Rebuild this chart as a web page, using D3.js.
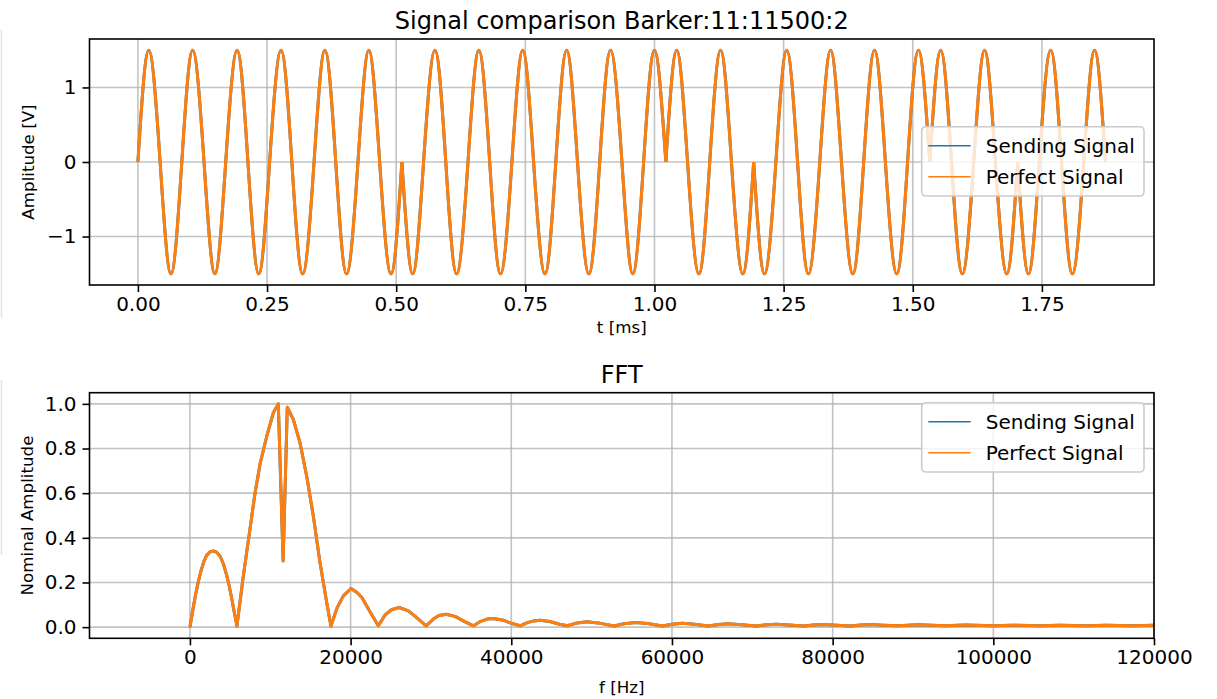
<!DOCTYPE html>
<html><head><meta charset="utf-8">
<script src="https://cdn.jsdelivr.net/npm/d3@7"></script>
<style>html,body{margin:0;padding:0;background:#fff;}svg{display:block;font-family:"DejaVu Sans",sans-serif;}</style>
</head><body><svg id="chart" width="1217" height="699"></svg>
<script>
// ---------- DATA ----------
const seriesNames = ["Sending Signal", "Perfect Signal"];
const seriesColors = ["#1f77b4", "#ff7f0e"];

// Top panel: time [ms] of peaks / zero crossings / troughs, and amplitude [V]
const sigT = [
0.000,0.021,0.043,0.064, 0.085,0.106,0.128,0.149, 0.170,0.192,0.213,0.234,
0.255,0.277,0.298,0.319, 0.341,0.362,0.383,0.404, 0.426,0.447,0.468,0.490,
0.511,0.532,0.553,0.575, 0.596,0.617,0.639,0.660, 0.681,0.702,0.724,0.745,
0.766,0.788,0.809,0.830, 0.851,0.873,0.894,0.915, 0.937,0.958,0.979,1.000,
1.022,1.043,1.064,1.086, 1.107,1.128,1.149,1.171, 1.192,1.213,1.235,1.256,
1.277,1.298,1.320,1.341, 1.362,1.384,1.405,1.426, 1.447,1.469,1.490,1.511,
1.533,1.554,1.575,1.596, 1.618,1.639,1.660,1.682, 1.703,1.724,1.745,1.767,
1.788,1.809,1.831,1.852, 1.873];
const sendingV = [
0,1.5,0,-1.5, 0,1.5,0,-1.5, 0,1.5,0,-1.5,
0,1.5,0,-1.5, 0,1.5,0,-1.5, 0,1.5,0,-1.5,
0,-1.5,0,1.5, 0,-1.5,0,1.5, 0,-1.5,0,1.5,
0,-1.5,0,1.5, 0,-1.5,0,1.5, 0,-1.5,0,1.5,
0,1.5,0,-1.5, 0,1.5,0,-1.5, 0,-1.5,0,1.5,
0,-1.5,0,1.5, 0,-1.5,0,1.5, 0,-1.5,0,1.5,
0,1.5,0,-1.5, 0,1.5,0,-1.5, 0,-1.5,0,1.5,
0,-1.5,0,1.5, 0];
const perfectV = sendingV.slice();

// Bottom panel: frequency [Hz] and nominal amplitude
const fftF = [0,350,700,1050,1400,1750,2090,2500,2913,3300,3750,4150,4580,4900,5200,5500,5850,
6650,7480,8100,8725,9560,10380,11000,11600,12120,
12870,13700,14535,15360,16190,17025,17550,18300,19100,20050,20800,21400,22400,23450,24300,25100,26050,
27200,28300,29400,30300,31000,31900,33000,34200,35300,36200,37000,37800,39000,40100,41100,42000,42800,
43600,44800,46000,47000,48000,49400,50800,52800,54000,55500,57000,58800,60000,61300,62800,64500,65800,
67000,68700,70500,71800,73000,74600,76400,77600,78800,80500,82200,83500,84700,86300,88100,90600,94000,
96500,100000,102300,105800,108200,111700,114000,117500,120000];
const sendingA = [0,0.075,0.145,0.205,0.255,0.295,0.322,0.337,0.341,0.336,0.318,0.285,0.232,0.183,0.128,0.07,0.005,
0.23,0.44,0.60,0.73,0.855,0.96,1.0,0.296,0.985,
0.93,0.826,0.676,0.498,0.289,0.11,0.005,0.085,0.14,0.173,0.155,0.133,0.07,0.006,0.055,0.078,0.088,
0.073,0.04,0.006,0.036,0.052,0.058,0.048,0.025,0.006,0.026,0.036,0.039,0.031,0.016,0.006,0.02,0.028,
0.031,0.025,0.013,0.006,0.017,0.024,0.019,0.005,0.015,0.021,0.016,0.005,0.013,0.017,0.013,0.005,0.012,
0.015,0.011,0.005,0.011,0.013,0.010,0.005,0.010,0.012,0.009,0.005,0.010,0.012,0.009,0.006,0.011,0.006,
0.010,0.006,0.009,0.006,0.009,0.006,0.009,0.006,0.008];
const perfectA = sendingA.slice();

const xTicksTop = [0,0.25,0.5,0.75,1.0,1.25,1.5,1.75];
const yTicksTop = [-1,0,1];
const xTicksBot = [0,20000,40000,60000,80000,100000,120000];
const yTicksBot = [0,0.2,0.4,0.6,0.8,1.0];

const titleTop = "Signal comparison Barker:11:11500:2";
const titleBot = "FFT";
const xLabelTop = "t [ms]", yLabelTop = "Amplitude [V]";
const xLabelBot = "f [Hz]", yLabelBot = "Nominal Amplitude";

// ---------- DRAWING ----------
const svg = d3.select("#chart");
const L = 89.5, R = 1154;
const FS = 20, LFS = 16.7, TFS = 24;

// faint left edge lines (crop artifact in reference)
svg.append("line").attr("x1",1.5).attr("x2",1.5).attr("y1",30).attr("y2",318).attr("stroke","#e3e3e3").attr("stroke-width",1.5);
svg.append("line").attr("x1",1.5).attr("x2",1.5).attr("y1",380).attr("y2",555).attr("stroke","#e3e3e3").attr("stroke-width",1.5);

function panel(cfg){
  const {top, bottom, xDom, yDom, xTicks, yTicks, xFmt, yFmt, title, xl, yl, ylx, curveSplit, xs, legendTop, clipId} = cfg;
  const x = d3.scaleLinear().domain(xDom).range([L, R]);
  const y = d3.scaleLinear().domain(yDom).range([bottom, top]);
  const g = svg.append("g");
  // grid
  g.append("g").selectAll("line").data(xTicks).join("line")
    .attr("x1",d=>x(d)).attr("x2",d=>x(d)).attr("y1",top).attr("y2",bottom)
    .attr("stroke","#b0b0b0").attr("stroke-width",1.6).attr("opacity",0.75);
  g.append("g").selectAll("line").data(yTicks).join("line")
    .attr("y1",d=>y(d)).attr("y2",d=>y(d)).attr("x1",L).attr("x2",R)
    .attr("stroke","#b0b0b0").attr("stroke-width",1.6).attr("opacity",0.75);
  // clip
  svg.append("clipPath").attr("id",clipId).append("rect")
    .attr("x",L).attr("y",top).attr("width",R-L).attr("height",bottom-top);
  const lg = g.append("g").attr("clip-path",`url(#${clipId})`);
  const series = [cfg.sA, cfg.sB];
  series.forEach((vals, si) => {
    const pts = xs.map((t,i)=>[t, vals[i]]);
    let segs = [pts];
    if (curveSplit) {
      segs = []; let cur = [pts[0]];
      for (let i=1;i<pts.length;i++){
        cur.push(pts[i]);
        if (i<pts.length-1 && pts[i][1]===0 && Math.sign(pts[i-1][1])===Math.sign(pts[i+1][1])) {
          segs.push(cur); cur=[pts[i]];
        }
      }
      segs.push(cur);
    }
    const line = d3.line().x(d=>x(d[0])).y(d=>y(d[1])).curve(curveSplit ? d3.curveNatural : d3.curveLinear);
    lg.append("g").selectAll("path").data(segs).join("path")
      .attr("d", line).attr("fill","none").attr("stroke",seriesColors[si])
      .attr("stroke-width",3).attr("stroke-linejoin","round").attr("stroke-linecap","butt");
  });
  // axes
  const ax = d3.axisBottom(x).tickValues(xTicks).tickFormat(xFmt).tickSize(7).tickPadding(5);
  const axg = g.append("g").attr("transform",`translate(0,${bottom})`).call(ax);
  const ay = d3.axisLeft(y).tickValues(yTicks).tickFormat(yFmt).tickSize(7).tickPadding(6);
  const ayg = g.append("g").attr("transform",`translate(${L},0)`).call(ay);
  [axg, ayg].forEach(a=>{
    a.select(".domain").remove();
    a.selectAll("line").attr("stroke","#000").attr("stroke-width",1.6);
    a.selectAll("text").attr("font-family","DejaVu Sans").attr("font-size",FS).attr("fill","#000");
  });
  // spines
  g.append("rect").attr("x",L).attr("y",top).attr("width",R-L).attr("height",bottom-top)
    .attr("fill","none").attr("stroke","#000").attr("stroke-width",1.6);
  // title & labels
  g.append("text").attr("x",(L+R)/2).attr("y",top-10).attr("text-anchor","middle")
    .attr("font-size",TFS).text(title);
  g.append("text").attr("x",(L+R)/2).attr("y",bottom+cfg.xlOff).attr("text-anchor","middle")
    .attr("font-size",LFS).text(xl);
  g.append("text").attr("transform",`translate(${ylx},${(top+bottom)/2}) rotate(-90)`)
    .attr("text-anchor","middle").attr("dy","0.35em").attr("font-size",LFS).text(yl);
  // legend
  const lx = 921.7, lw = 1144-921.7, lh = 69.3;
  const leg = g.append("g").attr("transform",`translate(${lx},${legendTop})`);
  leg.append("rect").attr("width",lw).attr("height",lh).attr("rx",4).attr("fill","#fff")
    .attr("fill-opacity",0.8).attr("stroke","#cccccc").attr("stroke-width",1.6);
  seriesNames.forEach((n,i)=>{
    const yy = 19 + i*31;
    leg.append("line").attr("x1",6.6).attr("x2",49).attr("y1",yy).attr("y2",yy)
      .attr("stroke",seriesColors[i]).attr("stroke-width",1.6);
    leg.append("text").attr("x",64).attr("y",yy).attr("dy","0.35em").attr("font-size",FS).text(n);
  });
}

panel({top:39, bottom:285, xDom:[-0.0937,1.967], yDom:[-1.65,1.65],
  xTicks:xTicksTop, yTicks:yTicksTop, xFmt:d3.format(".2f"), yFmt:d=>d<0?"\u2212"+Math.abs(d):String(d),
  title:titleTop, xl:xLabelTop, yl:yLabelTop, ylx:28.3, curveSplit:true, xs:sigT, sA:sendingV, sB:perfectV,
  legendTop:126.7, clipId:"c1", xlOff:48});
panel({top:392.7, bottom:638.3, xDom:[-12500,120000], yDom:[-0.05,1.05],
  xTicks:xTicksBot, yTicks:yTicksBot, xFmt:d3.format("d"), yFmt:d3.format(".1f"),
  title:titleBot, xl:xLabelBot, yl:yLabelBot, ylx:26.7, curveSplit:false, xs:fftF, sA:sendingA, sB:perfectA,
  legendTop:402.7, clipId:"c2", xlOff:55});
</script></body></html>
